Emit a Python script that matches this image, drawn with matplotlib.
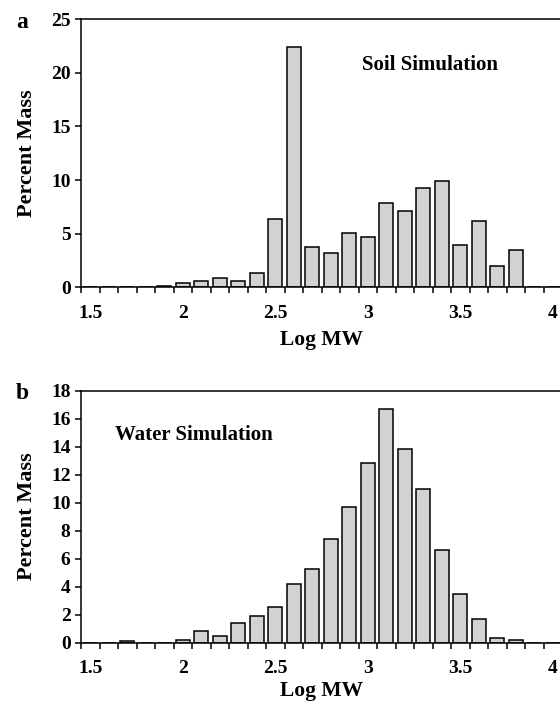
import matplotlib

matplotlib.use("Agg")
import matplotlib.pyplot as plt
import numpy as np

# category axis: log MW bins from 1.5 to 4.0 in steps of 0.1
log_mw = ["1.5", "1.6", "1.7", "1.8", "1.9", "2.0", "2.1", "2.2", "2.3", "2.4",
          "2.5", "2.6", "2.7", "2.8", "2.9", "3.0", "3.1", "3.2", "3.3", "3.4",
          "3.5", "3.6", "3.7", "3.8", "3.9", "4.0"]
tick_labels = ["1.5", "2", "2.5", "3", "3.5", "4"]

soil_mass = [0, 0, 0, 0, 0.12, 0.37, 0.6, 0.9, 0.6, 1.33,
             6.37, 22.45, 3.8, 3.2, 5.1, 4.66, 7.83, 7.09, 9.29, 9.92,
             3.92, 6.16, 2.02, 3.51, 0, 0]
water_mass = [0, 0, 0.08, 0, 0, 0.16, 0.84, 0.43, 1.39, 1.87,
              2.57, 4.2, 5.27, 7.43, 9.71, 12.86, 16.67, 13.84, 10.94, 6.64,
              3.45, 1.68, 0.31, 0.17, 0, 0]

plt.rcParams["font.family"] = ["Liberation Serif", "DejaVu Serif"]
plt.rcParams["font.weight"] = "bold"

FILL = "#d2d2d5"


def _panel(ax, values, ymax, ystep, letter, note, note_xy, note_ha, xlabelpad=6):
    x = np.arange(len(log_mw))
    ax.bar(x, values, width=0.74, color=FILL, edgecolor="black", linewidth=1.1)
    ax.set_xlim(-0.5, len(log_mw) - 0.5)
    ax.set_ylim(0, ymax)
    yt = np.arange(0, ymax + 0.1, ystep)
    ax.set_yticks(yt)
    ax.set_yticklabels([f"{v:g}" for v in yt])
    # ticks between categories, labels on every fifth category
    ax.set_xticks(np.arange(-0.5, len(log_mw), 1.0))
    ax.set_xticklabels([])
    label_pos = [log_mw.index(f"{float(t):.1f}") for t in tick_labels]
    ax.set_xticks(label_pos, minor=True)
    ax.set_xticklabels(tick_labels, minor=True)
    ax.tick_params(axis="x", which="major", direction="out", length=4.5, width=1.1)
    ax.tick_params(axis="x", which="minor", length=0, pad=12.5, labelsize=14)
    ax.tick_params(axis="y", direction="out", length=4.5, width=1.1, labelsize=14, pad=3)
    for spine in ax.spines.values():
        spine.set_linewidth(1.1)
    ax.set_xlabel("Log MW", fontsize=15.5, fontweight="bold", labelpad=xlabelpad)
    ax.set_ylabel("Percent Mass", fontsize=16, fontweight="bold", labelpad=10)
    ax.text(*note_xy, note, transform=ax.transAxes, fontsize=15, fontweight="bold",
            ha=note_ha, va="center")
    ax.annotate(letter, xy=(0, 1), xycoords="axes fraction", xytext=(-65, -3),
                textcoords="offset pixels", fontsize=17, fontweight="bold",
                ha="left", va="center")


fig = plt.figure(figsize=(5.6, 7.02), dpi=100)
ax_a = fig.add_axes([81 / 560, 1 - 287.3 / 702, 481 / 560, 268 / 702])
ax_b = fig.add_axes([81 / 560, 1 - 642.5 / 702, 481 / 560, 251.8 / 702])

_panel(ax_a, soil_mass, 25, 5, "a", "Soil Simulation", (0.725, 0.83), "center")
_panel(ax_b, water_mass, 18, 2, "b", "Water Simulation", (0.07, 0.823), "left", xlabelpad=3)

fig.savefig("out.png", dpi=100)
